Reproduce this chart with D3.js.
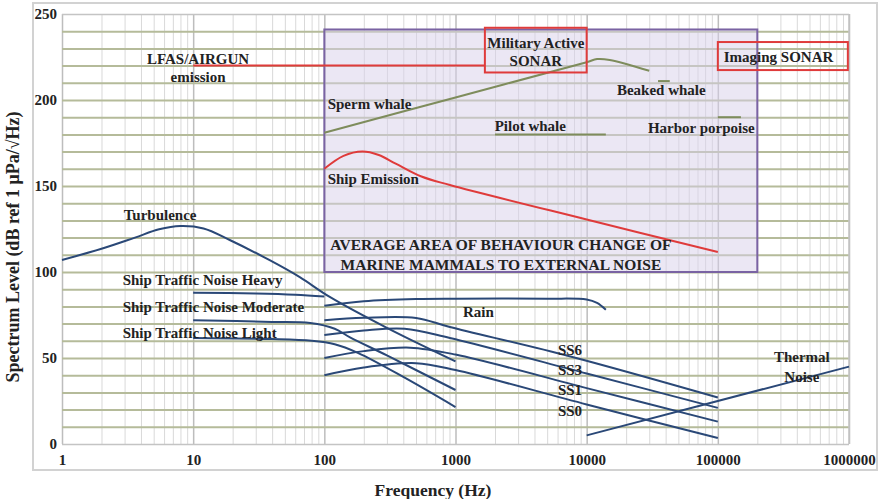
<!DOCTYPE html>
<html>
<head>
<meta charset="utf-8">
<script src="https://cdn.jsdelivr.net/npm/d3@7"></script>
<style>
  body { margin: 0; background: #fff; }
  svg text { font-family: "Liberation Serif", "Times New Roman", serif; font-weight: bold; fill: #222; }
</style>
</head>
<body>
<svg id="chart" width="880" height="499"></svg>
<script>
// Noise curves, [frequency Hz, level dB]
const turbulence = [[1,107],[2,113.5],[3.6,120],[5.5,124.8],[8,126.7],[12,125.3],[19,118.6],[38,107],[65,97],[110,85.5],[300,67.5],[1000,48]];
const trafficHeavy = [[10,88],[30,87.5],[60,86.8],[100,85.8]];
const trafficModerate = [[10,72],[40,71],[78,70.3],[120,67],[157,62],[300,51.5],[1000,31.4]];
const trafficLight = [[10,61.6],[40,61],[80,60],[120,58],[180,53],[400,39],[1000,21.5]];
const rain = [[100,80.4],[200,83],[500,84.3],[1000,84.5],[5000,84.5],[10000,84],[12000,82],[14000,78]];
const ss6 = [[100,72],[200,73.4],[500,73.3],[906,68],[7400,51],[100000,27]];
const ss3 = [[100,63.4],[200,66],[410,67],[906,61.6],[10000,41],[100000,21]];
const ss1 = [[100,50],[200,54],[450,56],[1000,52],[10000,32.5],[100000,13]];
const ss0 = [[100,40],[200,44.5],[500,47],[1000,43],[10000,23],[100000,3.5]];
const thermal = [[10000,5],[1000000,45]];

// Emission / marine mammal curves
const shipEmission = [[100,160],[140,167.5],[195,170],[260,168],[350,163],[550,155.5],[906,150.6],[10000,130.5],[100000,111.6]];
const lfas = [[10,220],[1675,220]];
const spermWhale = [[100,181],[1000,201.5],[10000,222],[12000,223.8],[15000,223.3],[30000,217]];
const beakedWhale = [[35000,211],[43000,211]];
const pilotWhale = [[2000,180],[14000,180]];
const harborPorpoise = [[100000,190],[150000,190]];

// Annotation areas: [f0, f1, dB0, dB1]
const behaviourArea = [100, 200000, 100, 241];
const militaryBox = [1675, 10000, 216, 242];
const imagingBox = [100000, 980000, 217.4, 233.7];

// Ticks
const xTicks = [1, 10, 100, 1000, 10000, 100000, 1000000];
const yTicks = [0, 50, 100, 150, 200, 250];

// Text labels: [text, frequency, level, anchor]
const labels = [
  ["LFAS/AIRGUN", 10.9, 223.8, "middle"],
  ["emission", 10.9, 213.4, "middle"],
  ["Military Active", 4100, 233, "middle"],
  ["SONAR", 4100, 222.7, "middle"],
  ["Imaging SONAR", 111000, 225, "start"],
  ["Sperm whale", 106, 198, "start"],
  ["Pilot whale", 1990, 185, "start"],
  ["Beaked whale", 17000, 205.8, "start"],
  ["Harbor porpoise", 29300, 183.7, "start"],
  ["Ship Emission", 106, 154, "start"],
  ["Turbulence", 5.6, 133, "middle"],
  ["Ship Traffic Noise Heavy", 2.9, 95.3, "start"],
  ["Ship Traffic Noise Moderate", 2.9, 79.7, "start"],
  ["Ship Traffic Noise Light", 2.9, 64.5, "start"],
  ["Rain", 1140, 76.7, "start"],
  ["SS6", 6040, 54.7, "start"],
  ["SS3", 6040, 43, "start"],
  ["SS1", 6040, 31.4, "start"],
  ["SS0", 6040, 19.2, "start"],
  ["Thermal", 437000, 50.5, "middle"],
  ["Noise", 437000, 39, "middle"]
];
const areaLabels = [
  ["AVERAGE AREA OF BEHAVIOUR CHANGE OF", 2220, 115.7],
  ["MARINE MAMMALS TO EXTERNAL NOISE", 2220, 104.6]
];

const svg = d3.select('#chart');
const margin = { top: 14, right: 31, bottom: 55, left: 62 };
const width = 880, height = 499;

const x = d3.scaleLog().domain([1, 1e6]).range([margin.left, width - margin.right]);
const y = d3.scaleLinear().domain([0, 250]).range([height - margin.bottom, margin.top]);

// Outer frame
svg.append('rect')
  .attr('x', 33).attr('y', 3).attr('width', 844).attr('height', 467)
  .attr('fill', '#fff').attr('stroke', '#d2d2d2').attr('stroke-width', 2);

// Vertical grid (every 1..9 x decade)
const minorX = [];
for (let p = 0; p < 6; p++) for (let m = 1; m < 10; m++) minorX.push(m * Math.pow(10, p));
minorX.push(1e6);
svg.append('g')
  .attr('transform', `translate(0, ${y(0)})`)
  .call(d3.axisBottom(x).tickValues(minorX).tickSize(-(y(0) - y(250))).tickFormat(''))
  .call(g => g.select('.domain').remove())
  .call(g => g.selectAll('line')
    .attr('stroke', d => xTicks.includes(d) ? '#bdbdbd' : '#d9d9d9')
    .attr('stroke-width', d => xTicks.includes(d) ? 1.5 : 1));

// Horizontal grid (every 10 dB)
svg.append('g')
  .attr('transform', `translate(${x(1)}, 0)`)
  .call(d3.axisLeft(y).tickValues(d3.range(0, 251, 10)).tickSize(-(x(1e6) - x(1))).tickFormat(''))
  .call(g => g.select('.domain').remove())
  .call(g => g.selectAll('line')
    .attr('stroke', d => (d === 0 || d === 250) ? '#c4c4c4' : '#b5bb9a')
    .attr('stroke-width', d => (d === 0 || d === 250) ? 1.5 : 2));

// Right border
svg.append('line')
  .attr('x1', x(1e6)).attr('x2', x(1e6)).attr('y1', y(0)).attr('y2', y(250))
  .attr('stroke', '#c4c4c4').attr('stroke-width', 1.5);

// Behaviour change area
svg.append('rect')
  .attr('x', x(behaviourArea[0])).attr('y', y(behaviourArea[3]))
  .attr('width', x(behaviourArea[1]) - x(behaviourArea[0]))
  .attr('height', y(behaviourArea[2]) - y(behaviourArea[3]))
  .attr('fill', '#d8cfe9').attr('fill-opacity', 0.5)
  .attr('stroke', '#7a63a3').attr('stroke-width', 2);

const line = d3.line()
  .x(d => x(d[0]))
  .y(d => y(d[1]))
  .curve(d3.curveCatmullRom.alpha(0.5));

function drawCurve(data, color, w) {
  svg.append('path')
    .datum(data)
    .attr('d', line)
    .attr('fill', 'none')
    .attr('stroke', color)
    .attr('stroke-width', w);
}

// Blue noise curves
const blue = '#2a4877';
[turbulence, trafficHeavy, trafficModerate, trafficLight, rain, ss6, ss3, ss1, ss0, thermal]
  .forEach(c => drawCurve(c, blue, 2));

// Whale curves
const olive = '#7e8c5c';
[spermWhale, beakedWhale, pilotWhale, harborPorpoise].forEach(c => drawCurve(c, olive, 2));

// Red emissions
const red = '#df3b3b';
drawCurve(shipEmission, red, 2);
drawCurve(lfas, red, 2);

// Sonar boxes
[militaryBox, imagingBox].forEach(b => {
  svg.append('rect')
    .attr('x', x(b[0])).attr('y', y(b[3]))
    .attr('width', x(b[1]) - x(b[0]))
    .attr('height', y(b[2]) - y(b[3]))
    .attr('fill', 'none')
    .attr('stroke', red).attr('stroke-width', 2);
});

// Labels
svg.append('g').selectAll('text')
  .data(labels)
  .join('text')
  .attr('x', d => x(d[1]))
  .attr('y', d => y(d[2]))
  .attr('dy', '0.35em')
  .attr('text-anchor', d => d[3])
  .attr('font-size', 15)
  .text(d => d[0]);

svg.append('g').selectAll('text')
  .data(areaLabels)
  .join('text')
  .attr('x', d => x(d[1]))
  .attr('y', d => y(d[2]))
  .attr('dy', '0.35em')
  .attr('text-anchor', 'middle')
  .attr('font-size', 15.5)
  .text(d => d[0]);

// Axes tick labels
svg.append('g')
  .attr('transform', `translate(0, ${y(0)})`)
  .call(d3.axisBottom(x).tickValues(xTicks).tickSize(0).tickPadding(10).tickFormat(d3.format('d')))
  .call(g => g.select('.domain').remove())
  .call(g => g.selectAll('text').attr('font-size', 15).attr('fill', '#222')
    .style('font-family', '"Liberation Serif", serif').style('font-weight', 'bold'));

svg.append('g')
  .attr('transform', `translate(${x(1)}, 0)`)
  .call(d3.axisLeft(y).tickValues(yTicks).tickSize(0).tickPadding(5))
  .call(g => g.select('.domain').remove())
  .call(g => g.selectAll('text').attr('font-size', 15).attr('fill', '#222')
    .style('font-family', '"Liberation Serif", serif').style('font-weight', 'bold'));

// Axis titles
svg.append('text')
  .attr('x', 433).attr('y', 496)
  .attr('text-anchor', 'middle')
  .attr('font-size', 17.5)
  .text('Frequency (Hz)');

svg.append('text')
  .attr('transform', 'translate(19, 247) rotate(-90)')
  .attr('text-anchor', 'middle')
  .attr('font-size', 18)
  .text('Spectrum Level (dB ref 1 μPa/√Hz)');
</script>
</body>
</html>
